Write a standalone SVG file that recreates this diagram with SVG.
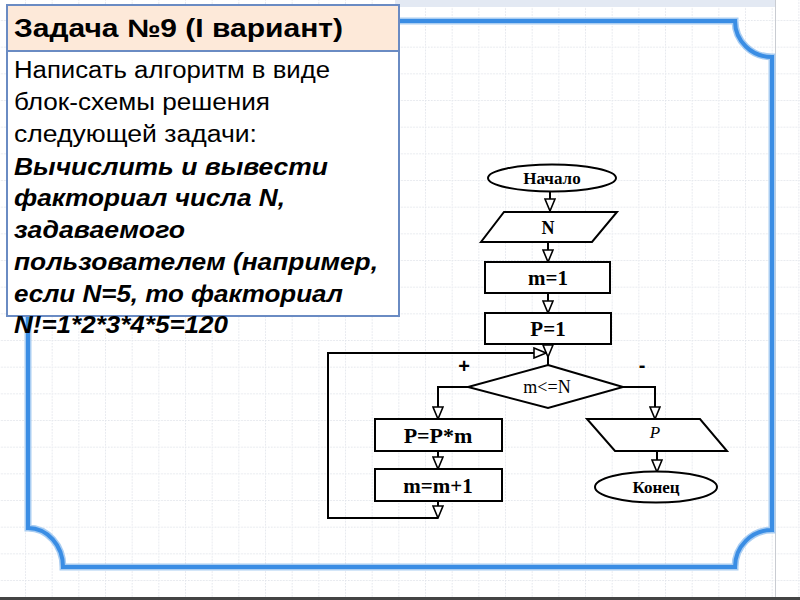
<svg xmlns="http://www.w3.org/2000/svg" width="800" height="600" viewBox="0 0 800 600">
  <defs>
    <pattern id="grid" patternUnits="userSpaceOnUse" x="25" y="20" width="26.667" height="26.667">
      <line x1="0.5" y1="0" x2="0.5" y2="26.667" stroke="#e2e5eb" stroke-width="1" stroke-dasharray="1.5 1.5"/>
      <line x1="0" y1="0.5" x2="26.667" y2="0.5" stroke="#e2e5eb" stroke-width="1" stroke-dasharray="1.5 1.5"/>
    </pattern>
    <marker id="arr" viewBox="-1 -1 14 12" refX="12" refY="5" markerWidth="14" markerHeight="12" markerUnits="userSpaceOnUse" orient="auto">
      <path d="M0,0 L12,5 L0,10 Z" fill="#fff" stroke="#000" stroke-width="1.6" stroke-linejoin="miter"/>
    </marker>
    <style>
      .frame{fill:none;stroke:#3a8de4;stroke-width:4;stroke-linecap:round}
      .frameglow{fill:none;stroke:#a9cdf2;stroke-width:7}
      .box{fill:#fff;stroke:#000;stroke-width:2}
      .fc{font-family:"Liberation Serif","Times New Roman",serif;fill:#000;text-anchor:middle}
      .b{font-weight:bold}
      .con{fill:none;stroke:#000;stroke-width:2}
      .body{font-family:"Liberation Sans",Arial,sans-serif;font-size:23px;fill:#000}
      .bi{font-weight:bold;font-style:italic}
      .sign{font-family:"Liberation Sans",Arial,sans-serif;font-size:20px;font-weight:bold;text-anchor:middle}
    </style>
  </defs>
  <rect x="0" y="0" width="800" height="600" fill="#fff"/>
  <rect x="0" y="0" width="800" height="600" fill="url(#grid)"/>
  <rect x="395" y="0" width="380" height="7" fill="#e3e9f3"/>
  <line x1="775.5" y1="0" x2="775.5" y2="597" stroke="#c9ccd2" stroke-width="1"/>
  <rect x="0" y="597" width="800" height="3" fill="#444"/>

  <g id="frame">
    <path class="frameglow" d="M63,21 L735,21 A37,36 0 0 0 772,57 L772,530 A37,37 0 0 0 735,567 L63,567 A35,39 0 0 0 28,528 L28,57 A35,36 0 0 0 63,21 Z"/>
    <path class="frame" d="M63,21 L735,21 A37,36 0 0 0 772,57 L772,530 A37,37 0 0 0 735,567 L63,567 A35,39 0 0 0 28,528 L28,57 A35,36 0 0 0 63,21 Z"/>
  </g>

  <g id="title">
    <rect x="7" y="5" width="392" height="46" fill="#fde9d9" stroke="#6a8bc3" stroke-width="2"/>
    <text x="14" y="37" font-family="Liberation Sans, Arial, sans-serif" font-size="25" font-weight="bold" fill="#000" textLength="329" lengthAdjust="spacingAndGlyphs">Задача №9 (I вариант)</text>
  </g>

  <g id="task">
    <rect x="7" y="51" width="392" height="265" fill="#fff" stroke="#6a8bc3" stroke-width="2"/>
    <text class="body" x="14" y="78" textLength="316" lengthAdjust="spacingAndGlyphs">Написать алгоритм в виде</text>
    <text class="body" x="14" y="110" textLength="256" lengthAdjust="spacingAndGlyphs">блок-схемы решения</text>
    <text class="body" x="14" y="142" textLength="243" lengthAdjust="spacingAndGlyphs">следующей задачи:</text>
    <text class="body bi" x="14" y="175" textLength="314" lengthAdjust="spacingAndGlyphs">Вычислить и вывести</text>
    <text class="body bi" x="14" y="206" textLength="271" lengthAdjust="spacingAndGlyphs">факториал числа N,</text>
    <text class="body bi" x="14" y="238" textLength="171" lengthAdjust="spacingAndGlyphs">задаваемого</text>
    <text class="body bi" x="14" y="270" textLength="364" lengthAdjust="spacingAndGlyphs">пользователем (например,</text>
    <text class="body bi" x="14" y="302" textLength="329" lengthAdjust="spacingAndGlyphs">если N=5, то факториал</text>
    <text class="body bi" x="14" y="333" textLength="214" lengthAdjust="spacingAndGlyphs">N!=1*2*3*4*5=120</text>
  </g>

  <g id="connectors">
    <path class="con" d="M550,192 L550,211" marker-end="url(#arr)"/>
    <path class="con" d="M548,242 L548,262" marker-end="url(#arr)"/>
    <path class="con" d="M548,293 L548,313" marker-end="url(#arr)"/>
    <path class="con" d="M548,344 L548,357" marker-end="url(#arr)"/>
    <path class="con" d="M548,355 L548,366"/>
    <path class="con" d="M468,387 L438,387 L438,419" marker-end="url(#arr)"/>
    <path class="con" d="M623,387 L655,387 L655,419" marker-end="url(#arr)"/>
    <path class="con" d="M438,451 L438,469" marker-end="url(#arr)"/>
    <path class="con" d="M438,501 L438,518" marker-end="url(#arr)"/>
    <path class="con" d="M438,518 L328,518 L328,353 L546,353" marker-end="url(#arr)"/>
    <path class="con" d="M657,451 L657,472" marker-end="url(#arr)"/>
  </g>

  <g id="start">
    <ellipse class="box" cx="552" cy="178" rx="64" ry="13.5"/>
    <text class="fc b" x="552" y="184" font-size="17">Начало</text>
  </g>
  <g id="inputN">
    <polygon class="box" points="504,212 617,212 592,242 481,242"/>
    <text class="fc b" x="548" y="234" font-size="18">N</text>
  </g>
  <g id="m1">
    <rect class="box" x="485" y="262" width="125" height="31"/>
    <text class="fc b" x="548" y="285" font-size="21">m=1</text>
  </g>
  <g id="p1">
    <rect class="box" x="485" y="313" width="126" height="31"/>
    <text class="fc b" x="548" y="336" font-size="21">P=1</text>
  </g>
  <g id="cond">
    <polygon class="box" points="548,365 623,387 548,408 468,387"/>
    <text class="fc" x="547" y="393" font-size="18">m&lt;=N</text>
    <text class="sign" x="464" y="373">+</text>
    <text class="sign" x="642" y="372">-</text>
  </g>
  <g id="pmul">
    <rect class="box" x="375" y="419" width="127" height="32"/>
    <text class="fc b" x="438" y="443" font-size="22">P=P*m</text>
  </g>
  <g id="minc">
    <rect class="box" x="375" y="469" width="127" height="32"/>
    <text class="fc b" x="438" y="493" font-size="21">m=m+1</text>
  </g>
  <g id="outP">
    <polygon class="box" points="587,419 700,419 727,451 615,451"/>
    <text class="fc" x="655" y="438" font-size="17" font-style="italic">P</text>
  </g>
  <g id="end">
    <ellipse class="box" cx="656" cy="487" rx="61" ry="15.5"/>
    <text class="fc b" x="656" y="493" font-size="17">Конец</text>
  </g>
</svg>
